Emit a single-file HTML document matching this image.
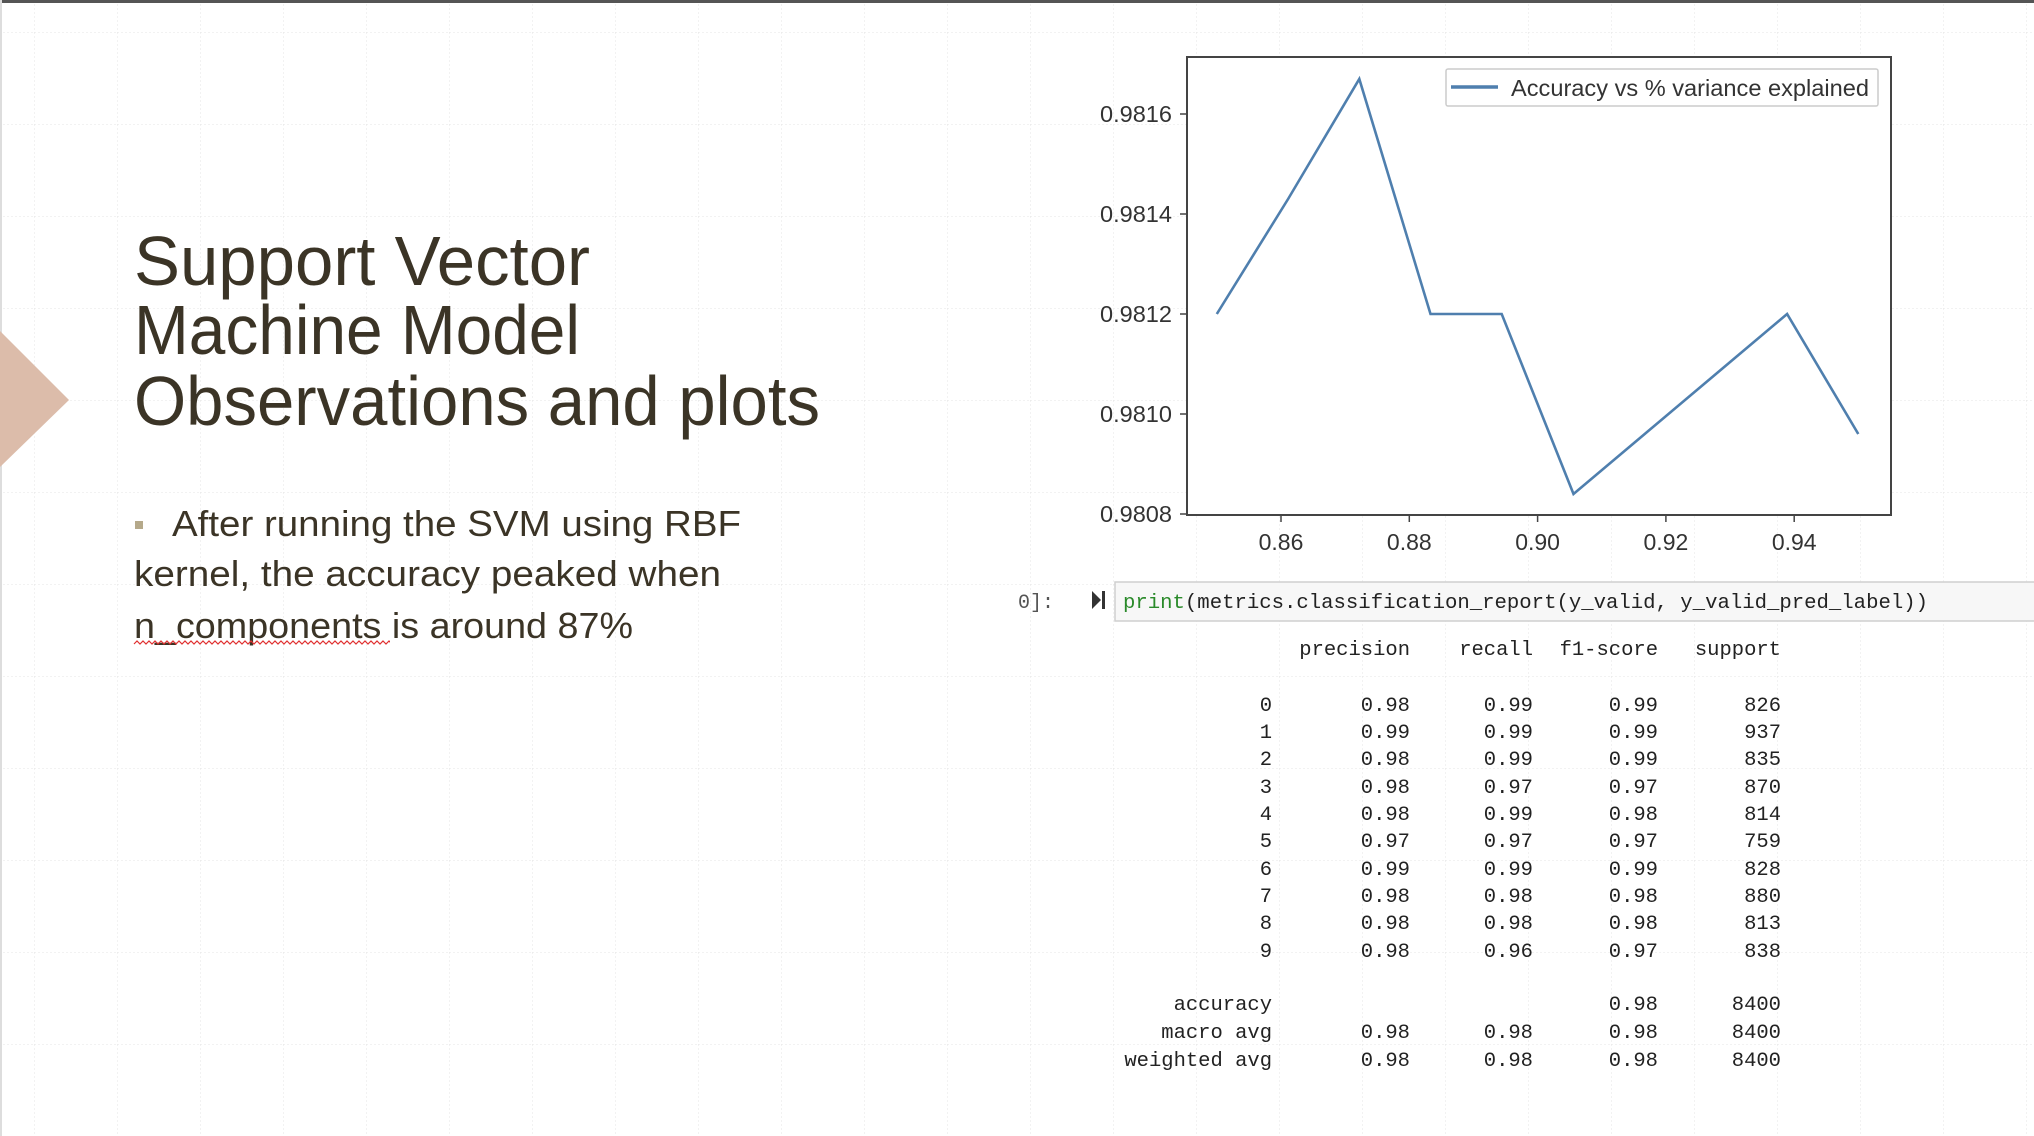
<!DOCTYPE html>
<html><head><meta charset="utf-8"><style>
html,body{margin:0;padding:0;background:#fff;}
svg{display:block;}
</style></head><body>
<svg id="slide" width="2034" height="1136" viewBox="0 0 2034 1136" xmlns="http://www.w3.org/2000/svg">
<defs>
<pattern id="grid" width="83" height="92" patternUnits="userSpaceOnUse" x="34" y="32">
<path d="M0 0H83M0 0V92" stroke="#e4e4e4" stroke-width="1" stroke-dasharray="2,2" fill="none"/>
</pattern>
<clipPath id="sqclip"><rect x="130" y="630" width="260" height="20"/></clipPath>
</defs>
<rect x="0" y="0" width="2034" height="1136" fill="url(#grid)"/>
<rect x="0" y="0" width="2034" height="3" fill="#555"/>
<rect x="0" y="0" width="2" height="1136" fill="#ddd"/>
<polygon points="0,331 69,400 0,467" fill="#dcbcaa"/>

<g font-family="'Liberation Sans Narrow','Liberation Sans',sans-serif" font-size="70" fill="#3b3426">
<text x="134" y="285" textLength="456" lengthAdjust="spacingAndGlyphs">Support Vector</text>
<text x="134" y="354" textLength="446" lengthAdjust="spacingAndGlyphs">Machine Model</text>
<text x="134" y="425" textLength="686" lengthAdjust="spacingAndGlyphs">Observations and plots</text>
</g>

<g font-family="'Liberation Sans Narrow','Liberation Sans',sans-serif" font-size="36" fill="#3b3426">
<rect x="135" y="521" width="8" height="8" fill="#b5a98a"/>
<text x="172" y="536" textLength="569" lengthAdjust="spacingAndGlyphs">After running the SVM using RBF</text>
<text x="134" y="586" textLength="587" lengthAdjust="spacingAndGlyphs">kernel, the accuracy peaked when</text>
<text x="134" y="638" textLength="499" lengthAdjust="spacingAndGlyphs">n_components is around 87%</text>
<path clip-path="url(#sqclip)" d="M134 644 l3 -3 l3 3 l3 -3 l3 3 l3 -3 l3 3 l3 -3 l3 3 l3 -3 l3 3 l3 -3 l3 3 l3 -3 l3 3 l3 -3 l3 3 l3 -3 l3 3 l3 -3 l3 3 l3 -3 l3 3 l3 -3 l3 3 l3 -3 l3 3 l3 -3 l3 3 l3 -3 l3 3 l3 -3 l3 3 l3 -3 l3 3 l3 -3 l3 3 l3 -3 l3 3 l3 -3 l3 3 l3 -3 l3 3 l3 -3 l3 3 l3 -3 l3 3 l3 -3 l3 3 l3 -3 l3 3 l3 -3 l3 3 l3 -3 l3 3 l3 -3 l3 3 l3 -3 l3 3 l3 -3 l3 3 l3 -3 l3 3 l3 -3 l3 3 l3 -3 l3 3 l3 -3 l3 3 l3 -3 l3 3 l3 -3 l3 3 l3 -3 l3 3 l3 -3 l3 3 l3 -3 l3 3 l3 -3 l3 3 l3 -3 l3 3 l3 -3 l3 3 l3 -3 l3 3 l3 -3 l3 3 l3 -3 l3 3 l3 -3 l3 3 l3 -3 l3 3 l3 -3 l3 3" stroke="#e03030" stroke-width="1.2" fill="none"/>
</g>

<g id="chart">
<rect x="1187" y="57" width="704" height="458" fill="#fff" stroke="#444" stroke-width="2"/>
</g>

<g>
<text x="1018" y="608" font-family="'Liberation Mono',monospace" font-size="20" fill="#555">0]:</text>
<path d="M1092 591 L1101 600 L1092 609 Z M1102 591 h3 v18 h-3 Z" fill="#333"/>
<rect x="1115" y="582" width="925" height="39" fill="#f7f7f7" stroke="#cfcfcf" stroke-width="1.5"/>
<text x="1123" y="608" font-family="'Liberation Mono',monospace" font-size="20.3" fill="#222" textLength="805" lengthAdjust="spacingAndGlyphs"><tspan fill="#2a8a2a">print</tspan>(metrics.classification_report(y_valid, y_valid_pred_label))</text>
</g>

<g font-family="'Liberation Mono',monospace" font-size="20.5" fill="#222" text-anchor="end">
<text x="1410" y="655">precision</text><text x="1533" y="655">recall</text><text x="1658" y="655">f1-score</text><text x="1781" y="655">support</text>
<text x="1272" y="711">0</text><text x="1410" y="711">0.98</text><text x="1533" y="711">0.99</text><text x="1658" y="711">0.99</text><text x="1781" y="711">826</text>
<text x="1272" y="738">1</text><text x="1410" y="738">0.99</text><text x="1533" y="738">0.99</text><text x="1658" y="738">0.99</text><text x="1781" y="738">937</text>
<text x="1272" y="765">2</text><text x="1410" y="765">0.98</text><text x="1533" y="765">0.99</text><text x="1658" y="765">0.99</text><text x="1781" y="765">835</text>
<text x="1272" y="793">3</text><text x="1410" y="793">0.98</text><text x="1533" y="793">0.97</text><text x="1658" y="793">0.97</text><text x="1781" y="793">870</text>
<text x="1272" y="820">4</text><text x="1410" y="820">0.98</text><text x="1533" y="820">0.99</text><text x="1658" y="820">0.98</text><text x="1781" y="820">814</text>
<text x="1272" y="847">5</text><text x="1410" y="847">0.97</text><text x="1533" y="847">0.97</text><text x="1658" y="847">0.97</text><text x="1781" y="847">759</text>
<text x="1272" y="875">6</text><text x="1410" y="875">0.99</text><text x="1533" y="875">0.99</text><text x="1658" y="875">0.99</text><text x="1781" y="875">828</text>
<text x="1272" y="902">7</text><text x="1410" y="902">0.98</text><text x="1533" y="902">0.98</text><text x="1658" y="902">0.98</text><text x="1781" y="902">880</text>
<text x="1272" y="929">8</text><text x="1410" y="929">0.98</text><text x="1533" y="929">0.98</text><text x="1658" y="929">0.98</text><text x="1781" y="929">813</text>
<text x="1272" y="957">9</text><text x="1410" y="957">0.98</text><text x="1533" y="957">0.96</text><text x="1658" y="957">0.97</text><text x="1781" y="957">838</text>
<text x="1272" y="1010">accuracy</text><text x="1658" y="1010">0.98</text><text x="1781" y="1010">8400</text>
<text x="1272" y="1038">macro avg</text><text x="1410" y="1038">0.98</text><text x="1533" y="1038">0.98</text><text x="1658" y="1038">0.98</text><text x="1781" y="1038">8400</text>
<text x="1272" y="1066">weighted avg</text><text x="1410" y="1066">0.98</text><text x="1533" y="1066">0.98</text><text x="1658" y="1066">0.98</text><text x="1781" y="1066">8400</text>
</g>
</svg>
<script>
const xValues = [0.85, 0.8611, 0.8722, 0.8833, 0.8944, 0.9056, 0.9167, 0.9278, 0.9389, 0.95];
const accuracyValues = [0.98120, 0.98143, 0.98167, 0.98120, 0.98120, 0.98084, 0.98096, 0.98108, 0.98120, 0.98096];
const xTicks = [0.86, 0.88, 0.90, 0.92, 0.94];
const xTickLabels = ["0.86", "0.88", "0.90", "0.92", "0.94"];
const yTicks = [0.9808, 0.9810, 0.9812, 0.9814, 0.9816];
const yTickLabels = ["0.9808", "0.9810", "0.9812", "0.9814", "0.9816"];
const legendLabel = "Accuracy vs % variance explained";

const NS = "http://www.w3.org/2000/svg";
const chart = document.getElementById('chart');
function xs(v){ return 1281 + (v - 0.86) / 0.02 * 128.3; }
function ys(v){ return 514 - (v - 0.9808) / 0.0002 * 100; }
function mk(tag, attrs){ const e = document.createElementNS(NS, tag); for (const k in attrs) e.setAttribute(k, attrs[k]); chart.appendChild(e); return e; }
const font = "'Liberation Sans Narrow','Liberation Sans',sans-serif";
xTicks.forEach((t, i) => {
  const tk = mk('line', {x1: xs(t), x2: xs(t), y1: 515, y2: 522, stroke: '#444', 'stroke-width': 1.5});
  
  
  const lb = mk('text', {x: xs(t), y: 550, 'text-anchor': 'middle', 'font-family': font, 'font-size': 23, fill: '#333'});
  lb.textContent = xTickLabels[i];
  
  
});
yTicks.forEach((t, i) => {
  const tk = mk('line', {x1: 1180, x2: 1187, y1: ys(t), y2: ys(t), stroke: '#444', 'stroke-width': 1.5});
  
  
  const lb = mk('text', {x: 1172, y: ys(t) + 8, 'text-anchor': 'end', 'font-family': font, 'font-size': 23, fill: '#333', textLength: 72, lengthAdjust: 'spacingAndGlyphs'});
  lb.textContent = yTickLabels[i];
  
  
});
const pts = xValues.map((x, i) => xs(x).toFixed(1) + ',' + ys(accuracyValues[i]).toFixed(1)).join(' ');
const line = mk('polyline', {points: pts, fill: 'none', stroke: '#4f7fae', 'stroke-width': 2.6, 'stroke-linejoin': 'miter'});


const lg = mk('rect', {x: 1446, y: 69, width: 432, height: 37, fill: '#fff', stroke: '#ccc', 'stroke-width': 1.5, rx: 2});


const ls = mk('line', {x1: 1451, x2: 1498, y1: 87, y2: 87, stroke: '#4f7fae', 'stroke-width': 3.5});


const lt = mk('text', {x: 1511, y: 96, 'font-family': font, 'font-size': 23, fill: '#333', textLength: 358, lengthAdjust: 'spacingAndGlyphs'});
lt.textContent = legendLabel;


</script>
</body></html>
